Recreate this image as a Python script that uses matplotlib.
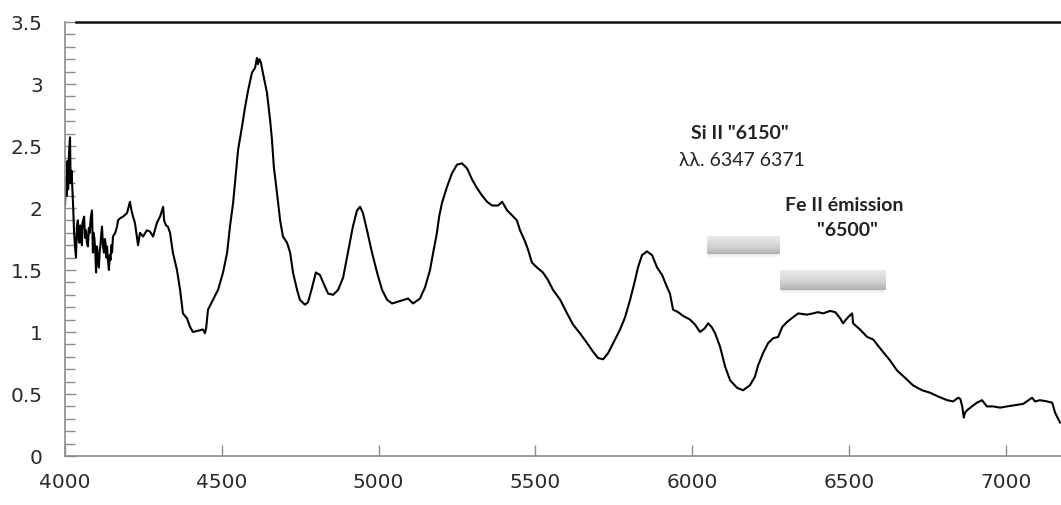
import numpy as np
import matplotlib
matplotlib.use("Agg")
import matplotlib.pyplot as plt
from matplotlib.ticker import MultipleLocator

# spectrum (wavelength in A, relative flux)
wavelength = [
    4000, 4003, 4005, 4008, 4010, 4013, 4016, 4018, 4021, 4026, 4029, 4032, 4035,
    4038, 4041, 4044, 4046, 4049, 4051, 4054, 4056, 4061, 4064, 4067, 4070, 4073,
    4076, 4079, 4082, 4086, 4089, 4091, 4094, 4097, 4099, 4102, 4105, 4108, 4111,
    4113, 4116, 4118, 4121, 4124, 4127, 4129, 4132, 4134, 4137, 4140, 4143, 4145,
    4148, 4150, 4153, 4160, 4166, 4169,
    4177, 4185, 4198, 4207, 4212, 4217, 4223, 4233, 4239, 4249, 4261, 4271, 4281,
    4293, 4303, 4313, 4316, 4322, 4328, 4335, 4344, 4357, 4367, 4376, 4389, 4399,
    4408, 4424, 4440, 4446, 4450, 4456, 4472, 4488, 4504, 4517, 4526, 4536, 4542,
    4552, 4564, 4574, 4584, 4596, 4606, 4612, 4615, 4620, 4625, 4631, 4644, 4654,
    4660, 4666, 4676, 4686, 4695, 4708, 4718, 4727, 4740, 4749, 4765, 4775, 4788,
    4800, 4813, 4823, 4839, 4855, 4871, 4887, 4902, 4918, 4931, 4941, 4950, 4963,
    4979, 4995, 5011, 5027, 5043, 5068, 5094, 5110, 5132, 5148, 5164, 5174, 5186,
    5193, 5202, 5218, 5234, 5250, 5266, 5282, 5298, 5314, 5330, 5346, 5362, 5381,
    5394, 5410, 5426, 5441, 5451, 5467, 5477, 5489, 5505, 5524, 5540, 5556, 5579,
    5601, 5620, 5642, 5665, 5684, 5700, 5716, 5732, 5748, 5770, 5786, 5802, 5818,
    5827, 5840, 5856, 5872, 5888, 5904, 5920, 5929, 5939, 5955, 5971, 5993, 6009,
    6025, 6040, 6051, 6062, 6073, 6089, 6105, 6121, 6143, 6162, 6184, 6200, 6210,
    6226, 6242, 6258, 6274, 6287, 6302, 6322, 6338, 6366, 6385, 6401, 6417, 6440,
    6456, 6472, 6481, 6497, 6510, 6513, 6535, 6558, 6577, 6605, 6631, 6653, 6679,
    6704, 6733, 6759, 6784, 6813, 6832, 6848, 6855, 6861, 6866, 6870, 6877, 6892,
    6908, 6924, 6940, 6959, 6982, 7004, 7030, 7055, 7084, 7093, 7109, 7132, 7148,
    7157, 7173,
]
flux = [
    2.02, 2.25, 2.10, 2.38, 2.15, 2.45, 2.57, 2.20, 2.30, 2.01, 1.80, 1.69, 1.60,
    1.85, 1.90, 1.74, 1.72, 1.86, 1.77, 1.70, 1.88, 1.93, 1.76, 1.82, 1.72, 1.69,
    1.84, 1.80, 1.92, 1.98, 1.64, 1.80, 1.75, 1.62, 1.48, 1.69, 1.58, 1.52, 1.66,
    1.70, 1.80, 1.85, 1.70, 1.64, 1.75, 1.72, 1.60, 1.69, 1.58, 1.50, 1.62, 1.58,
    1.70, 1.64, 1.77, 1.80, 1.85, 1.90,
    1.92, 1.93, 1.96, 2.05, 1.98, 1.93, 1.88, 1.70, 1.80, 1.77, 1.82, 1.81, 1.77,
    1.88, 1.93, 2.01, 1.90, 1.86, 1.85, 1.80, 1.64, 1.50, 1.34, 1.15, 1.11, 1.04,
    1.00, 1.01, 1.02, 0.99, 1.03, 1.18, 1.26, 1.34, 1.48, 1.64, 1.85, 2.04, 2.20,
    2.47, 2.65, 2.81, 2.95, 3.09, 3.13, 3.21, 3.16, 3.20, 3.17, 3.09, 2.93, 2.71,
    2.55, 2.33, 2.12, 1.90, 1.77, 1.72, 1.64, 1.48, 1.34, 1.26, 1.22, 1.24, 1.36,
    1.48, 1.46, 1.40, 1.31, 1.30, 1.34, 1.44, 1.64, 1.85, 1.98, 2.01, 1.96, 1.82,
    1.64, 1.48, 1.34, 1.26, 1.23, 1.25, 1.27, 1.23, 1.27, 1.36, 1.50, 1.64, 1.80,
    1.93, 2.04, 2.17, 2.28, 2.35, 2.36, 2.32, 2.23, 2.16, 2.10, 2.05, 2.02, 2.02,
    2.05, 1.98, 1.94, 1.90, 1.82, 1.73, 1.66, 1.56, 1.52, 1.48, 1.42, 1.34, 1.26,
    1.15, 1.06, 0.99, 0.91, 0.84, 0.79, 0.78, 0.83, 0.91, 1.02, 1.12, 1.26, 1.42,
    1.52, 1.62, 1.65, 1.62, 1.52, 1.46, 1.36, 1.31, 1.18, 1.16, 1.13, 1.10, 1.06,
    1.00, 1.03, 1.07, 1.04, 0.99, 0.88, 0.72, 0.61, 0.55, 0.53, 0.57, 0.64, 0.73,
    0.83, 0.91, 0.95, 0.96, 1.04, 1.08, 1.12, 1.15, 1.14, 1.15, 1.16, 1.15, 1.17,
    1.16, 1.11, 1.07, 1.12, 1.15, 1.07, 1.02, 0.96, 0.94, 0.85, 0.77, 0.69, 0.63,
    0.57, 0.53, 0.51, 0.48, 0.45, 0.44, 0.47, 0.46, 0.40, 0.31, 0.35, 0.37, 0.40,
    0.43, 0.45, 0.40, 0.40, 0.39, 0.40, 0.41, 0.42, 0.47, 0.44, 0.45, 0.44, 0.43,
    0.35, 0.27,
]

# gray band markers: (x0, x1, y0, y1)
bands = [(6047, 6277, 1.63, 1.77), (6280, 6615, 1.34, 1.50)]

labels = [
    (6153, 2.60, 'Si II "6150"', "bold"),
    (6159, 2.38, "\u03bb\u03bb. 6347 6371", "normal"),
    (6484, 2.02, "Fe II \u00e9mission", "bold"),
    (6494, 1.82, '"6500"', "bold"),
]

fig = plt.figure(figsize=(10.61, 5.05), dpi=100)
ax = fig.add_axes([65 / 1061, 49 / 505, 1 - 65 / 1061, 434 / 505])

ax.plot(wavelength, flux, color="black", lw=1.5)

# shaded bars with a soft shadow
grad = np.linspace(0, 1, 64).reshape(-1, 1)
cmap = matplotlib.colors.LinearSegmentedColormap.from_list(
    "bar", ["#b0b0b0", "#cdcdcd", "#dddddd", "#ebebeb"])
for x0, x1, y0, y1 in bands:
    for k, a in enumerate([0.10, 0.06, 0.03]):
        dy = 0.012 * (k + 1)
        ax.add_patch(plt.Rectangle((x0 + 4, y0 - dy), x1 - x0 - 8, y1 - y0,
                                   color="#808080", alpha=a, lw=0, zorder=2))
    ax.imshow(grad, extent=(x0, x1, y0, y1), origin="lower", cmap=cmap,
              aspect="auto", zorder=3, interpolation="bilinear")

for x, y, s, w in labels:
    ax.text(x, y, s, ha="center", va="center", fontsize=14, fontweight=w,
            color="#222222", family=["Lato", "DejaVu Sans"])

ax.set_xlim(4000, 7176)
ax.set_ylim(0, 3.5)
ax.xaxis.set_major_locator(MultipleLocator(500))
ax.yaxis.set_minor_locator(MultipleLocator(0.1))
ax.set_yticks([0, 0.5, 1, 1.5, 2, 2.5, 3, 3.5])
ax.set_yticklabels(["0", "0.5", "1", "1.5", "2", "2.5", "3", "3.5"])

ax.tick_params(axis="both", which="both", direction="in", color="#8c8c8c",
               width=1.0, labelsize=14.5, labelcolor="#2b2b2b")
ax.tick_params(axis="x", length=8, pad=12)
ax.tick_params(axis="y", which="major", length=8, pad=16)
ax.tick_params(axis="y", which="minor", length=7)

for side in ("left", "bottom"):
    ax.spines[side].set_color("#8c8c8c")
    ax.spines[side].set_linewidth(1.2)
ax.spines["right"].set_visible(False)
ax.spines["top"].set_visible(False)
# dark line along the top starts a little right of the frame
ax.axhline(3.5, xmin=0.011, xmax=1, color="#111111", lw=1.8, clip_on=False)

fig.savefig("out.png", dpi=100)
